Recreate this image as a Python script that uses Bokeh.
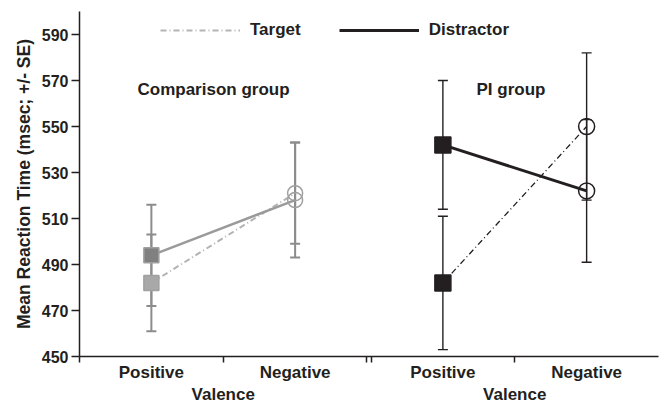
from bokeh.plotting import figure
from bokeh.models import (ColumnDataSource, Whisker, TeeHead, FixedTicker, LinearAxis,
                          Range1d, Legend, LegendItem, Label)
from bokeh.embed import file_html
from bokeh.resources import INLINE

# ---------------- data ----------------
valence = ["Positive", "Negative"]
group_titles = ["Comparison group", "PI group"]
x_title = "Valence"
y_title = "Mean Reaction Time (msec; +/- SE)"
y_ticks = [450, 470, 490, 510, 530, 550, 570, 590]
series_names = ["Target", "Distractor"]

comp_target_mean = [482, 521]
comp_target_se = [21, 22]
comp_distractor_mean = [494, 518]
comp_distractor_se = [22, 25]
pi_target_mean = [482, 550]
pi_target_se = [29, 32]
pi_distractor_mean = [542, 522]
pi_distractor_se = [28, 31]

# ---------------- styling ----------------
TEXT = "#231f20"
FONT = "Liberation Sans"
GAP = 0.028
panel_offset = [0.0, 2.0 + GAP]
markers = ["square", "circle"]
fill_alpha = [1.0, 0.0]


def make_source(panel, mean, se):
    xs = [panel_offset[panel] + i + 0.5 for i in range(len(valence))]
    return ColumnDataSource(dict(
        x=xs, y=mean,
        upper=[m + s for m, s in zip(mean, se)],
        lower=[m - s for m, s in zip(mean, se)],
        marker=markers, alpha=fill_alpha,
    ))


p = figure(width=667, height=406, x_range=Range1d(0, 4 + GAP), y_range=Range1d(450, 600),
           output_backend="svg", toolbar_location=None,
           min_border_left=79, min_border_right=9, min_border_top=11, min_border_bottom=49)
p.outline_line_color = None
p.grid.visible = False
p.background_fill_color = "white"
p.border_fill_color = "white"

# --- series ---
specs = [
    # panel, mean, se, line color, line width, dash, marker fill, err color, err width, size, marker line
    (0, comp_target_mean, comp_target_se, "#b3b3b3", 2, "6 3 1 3", "#a8a8a8", "#8c8c8c", 2, 15, "#a0a0a0"),
    (0, comp_distractor_mean, comp_distractor_se, "#9a9a9a", 2.5, "solid", "#808080", "#8c8c8c", 2, 15, "#a0a0a0"),
    (1, pi_target_mean, pi_target_se, TEXT, 1.3, "6 3 1 3", TEXT, TEXT, 1.4, 16, TEXT),
    (1, pi_distractor_mean, pi_distractor_se, TEXT, 3, "solid", TEXT, TEXT, 1.4, 16, TEXT),
]
line_renderers = []
for panel, mean, se, lc, lw, dash, mfill, ec, ew, size, mline in specs:
    src = make_source(panel, mean, se)
    w = Whisker(source=src, base="x", upper="upper", lower="lower", dimension="height",
                line_color=ec, line_width=ew, level="underlay",
                upper_head=TeeHead(size=10, line_color=ec, line_width=ew),
                lower_head=TeeHead(size=10, line_color=ec, line_width=ew))
    p.add_layout(w)
    r = p.line("x", "y", source=src, line_color=lc, line_width=lw, line_dash=dash)
    line_renderers.append(r)
    p.scatter("x", "y", source=src, marker="marker", size=size, fill_color=mfill,
              fill_alpha="alpha", line_color=mline, line_width=1.5)

# --- axes ---
ya = p.yaxis[0]
ya.ticker = FixedTicker(ticks=y_ticks)
ya.major_tick_out = 8
ya.major_tick_in = 0
ya.minor_tick_line_color = None
ya.axis_line_width = 1.5
ya.axis_line_color = TEXT
ya.major_tick_line_color = TEXT
ya.major_tick_line_width = 1.5
ya.major_label_standoff = 3
ya.major_label_text_font = FONT
ya.major_label_text_font_style = "bold"
ya.major_label_text_font_size = "16px"
ya.major_label_text_color = TEXT
ya.axis_label = y_title
ya.axis_label_text_font = FONT
ya.axis_label_text_font_style = "bold"
ya.axis_label_text_font_size = "17.5px"
ya.axis_label_text_color = TEXT
ya.axis_label_standoff = 5

cat_x = [panel_offset[k] + i + 0.5 for k in range(2) for i in range(len(valence))]
bounds_x = [panel_offset[k] + i for k in range(2) for i in range(len(valence) + 1)]
xa = p.xaxis[0]
xa.ticker = FixedTicker(ticks=cat_x, minor_ticks=bounds_x)
xa.major_label_overrides = {x: valence[j % 2] for j, x in enumerate(cat_x)}
xa.major_tick_line_color = None
xa.major_tick_out = 0
xa.major_tick_in = 0
xa.minor_tick_line_color = TEXT
xa.minor_tick_line_width = 1.5
xa.minor_tick_out = 6
xa.minor_tick_in = 0
xa.axis_line_width = 1.5
xa.axis_line_color = TEXT
xa.major_label_standoff = 0
xa.major_label_text_font = FONT
xa.major_label_text_font_style = "bold"
xa.major_label_text_font_size = "17px"
xa.major_label_text_color = TEXT

centers = [panel_offset[k] + len(valence) / 2 for k in range(2)]
xa2 = LinearAxis(ticker=FixedTicker(ticks=centers),
                 major_label_overrides={c: x_title for c in centers},
                 axis_line_color=None, major_tick_line_color=None, minor_tick_line_color=None,
                 major_tick_out=0, major_tick_in=0, major_label_standoff=0,
                 major_label_text_font=FONT, major_label_text_font_style="bold",
                 major_label_text_font_size="17px", major_label_text_color=TEXT)
p.add_layout(xa2, "below")

# --- group titles ---
for txt, sx in zip(group_titles, [58, 397]):
    p.add_layout(Label(x=sx, y=267, x_units="screen", y_units="screen", text=txt,
                       text_baseline="middle", text_align="left", text_font=FONT,
                       text_font_style="bold", text_font_size="17px", text_color=TEXT))

# --- legend ---
legend = Legend(items=[LegendItem(label=series_names[0], renderers=[line_renderers[0]]),
                       LegendItem(label=series_names[1], renderers=[line_renderers[3]])],
                orientation="horizontal", location=(81, 316),
                glyph_width=80, glyph_height=20, label_height=20, label_standoff=10,
                spacing=38, padding=0, margin=0, border_line_color=None,
                background_fill_alpha=0,
                label_text_font=FONT, label_text_font_style="bold",
                label_text_font_size="17px", label_text_color=TEXT)
p.add_layout(legend)

open("out.html", "w").write(file_html(p, INLINE))
